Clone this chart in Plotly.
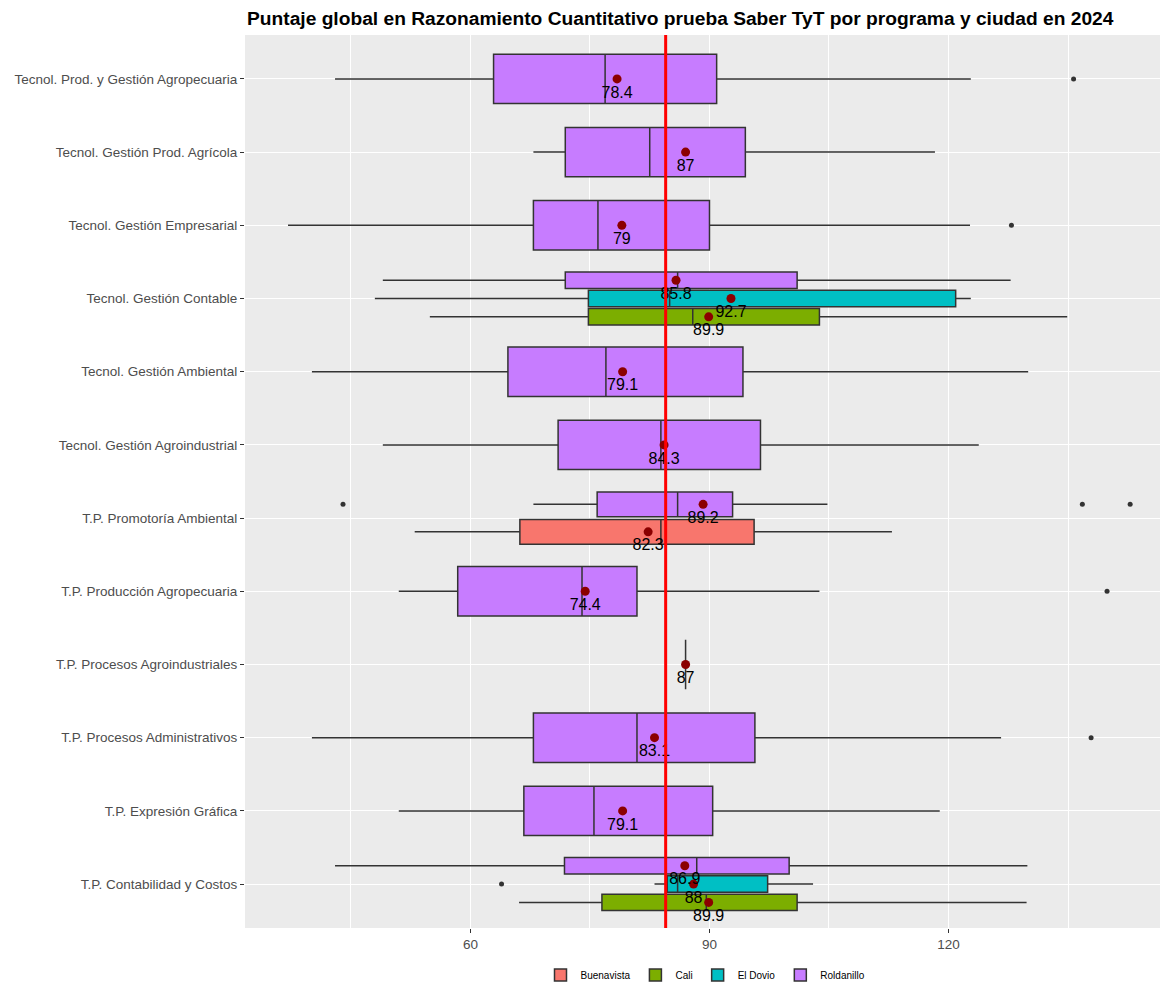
import plotly.graph_objects as go

# ---------------- data ----------------
programas = [
    "Tecnol. Prod. y Gestión Agropecuaria",
    "Tecnol. Gestión Prod. Agrícola",
    "Tecnol. Gestión Empresarial",
    "Tecnol. Gestión Contable",
    "Tecnol. Gestión Ambiental",
    "Tecnol. Gestión Agroindustrial",
    "T.P. Promotoría Ambiental",
    "T.P. Producción Agropecuaria",
    "T.P. Procesos Agroindustriales",
    "T.P. Procesos Administrativos",
    "T.P. Expresión Gráfica",
    "T.P. Contabilidad y Costos",
]
ciudades = ["Buenavista", "Cali", "El Dovio", "Roldanillo"]
colores = {"Buenavista": "#F8766D", "Cali": "#7CAE00", "El Dovio": "#00BFC4", "Roldanillo": "#C77CFF"}

fila_programa = [
    "Tecnol. Prod. y Gestión Agropecuaria",
    "Tecnol. Gestión Prod. Agrícola",
    "Tecnol. Gestión Empresarial",
    "Tecnol. Gestión Contable",
    "Tecnol. Gestión Contable",
    "Tecnol. Gestión Contable",
    "Tecnol. Gestión Ambiental",
    "Tecnol. Gestión Agroindustrial",
    "T.P. Promotoría Ambiental",
    "T.P. Promotoría Ambiental",
    "T.P. Producción Agropecuaria",
    "T.P. Procesos Agroindustriales",
    "T.P. Procesos Administrativos",
    "T.P. Expresión Gráfica",
    "T.P. Contabilidad y Costos",
    "T.P. Contabilidad y Costos",
    "T.P. Contabilidad y Costos",
]
fila_ciudad = [
    "Roldanillo", "Roldanillo", "Roldanillo",
    "Roldanillo", "El Dovio", "Cali",
    "Roldanillo", "Roldanillo",
    "Roldanillo", "Buenavista",
    "Roldanillo", "Roldanillo", "Roldanillo", "Roldanillo",
    "Roldanillo", "El Dovio", "Cali",
]
bigote_inf = [43.0, 67.9, 37.1, 49.0, 48.0, 54.9, 40.1, 49.0, 67.9, 53.0, 51.0, 87.0, 40.1, 51.0, 43.0, 83.1, 66.1]
q1 =         [62.9, 71.9, 67.9, 71.9, 74.8, 74.8, 64.7, 71.0, 75.9, 66.2, 58.4, 87.0, 67.9, 66.7, 71.8, 84.7, 76.5]
mediana =    [76.9, 82.5, 76.0, 86.0, 85.0, 87.9, 77.0, 83.9, 86.0, 83.9, 74.0, 87.0, 80.9, 75.5, 88.4, 86.0, 89.6]
q3 =         [90.9, 94.5, 90.0, 101.0, 120.9, 103.8, 94.2, 96.4, 92.9, 95.6, 80.9, 87.0, 95.7, 90.4, 100.0, 97.3, 101.0]
bigote_sup = [122.8, 118.3, 122.7, 127.8, 122.8, 134.9, 130.0, 123.8, 104.8, 112.9, 103.8, 87.0, 126.6, 118.9, 129.9, 103.0, 129.8]
media =      [78.4, 87, 79, 85.8, 92.7, 89.9, 79.1, 84.3, 89.2, 82.3, 74.4, 87, 83.1, 79.1, 86.9, 88, 89.9]

atipico_programa = [
    "Tecnol. Prod. y Gestión Agropecuaria",
    "Tecnol. Gestión Empresarial",
    "T.P. Promotoría Ambiental",
    "T.P. Promotoría Ambiental",
    "T.P. Promotoría Ambiental",
    "T.P. Producción Agropecuaria",
    "T.P. Procesos Administrativos",
    "T.P. Contabilidad y Costos",
]
atipico_ciudad = ["Roldanillo", "Roldanillo", "Roldanillo", "Roldanillo", "Roldanillo",
                  "Roldanillo", "Roldanillo", "El Dovio"]
atipico_valor = [135.7, 127.9, 44.0, 136.8, 142.8, 139.9, 137.9, 63.9]

media_global = 84.5

# ---------------- dodge positions (position_dodge2, width 0.75, padding 0.1) ----------------
DODGE = 0.75
PAD = 0.1


def posicion(prog, ciudad):
    grupo = sorted(c for p, c in zip(fila_programa, fila_ciudad) if p == prog)
    n = len(grupo)
    k = grupo.index(ciudad)
    w = DODGE / n
    centro = programas.index(prog) + 1
    return centro + DODGE / 2 - (k + 0.5) * w, w * (1 - PAD)


fig = go.Figure()

vistos = set()
for ciudad in ciudades:
    for i, (p, c) in enumerate(zip(fila_programa, fila_ciudad)):
        if c != ciudad:
            continue
        y, ancho = posicion(p, c)
        fig.add_trace(go.Box(
            y=[y], q1=[q1[i]], median=[mediana[i]], q3=[q3[i]],
            lowerfence=[bigote_inf[i]], upperfence=[bigote_sup[i]],
            orientation="h", width=ancho, boxpoints=False, whiskerwidth=0,
            fillcolor=colores[c], line=dict(color="#333333", width=1.5),
            name=c, legendgroup=c, showlegend=c not in vistos,
        ))
        vistos.add(c)

# outliers
fig.add_trace(go.Scatter(
    x=atipico_valor,
    y=[posicion(p, c)[0] for p, c in zip(atipico_programa, atipico_ciudad)],
    mode="markers", marker=dict(color="#333333", size=5),
    showlegend=False, hoverinfo="x",
))

# means with labels
fig.add_trace(go.Scatter(
    x=media,
    y=[posicion(p, c)[0] for p, c in zip(fila_programa, fila_ciudad)],
    mode="markers+text",
    marker=dict(color="#8B0000", size=9),
    text=[f"{m:g}" for m in media],
    textposition="bottom center",
    textfont=dict(family="Liberation Sans, Arial", size=16, color="black"),
    showlegend=False,
))

fig.add_shape(type="line", x0=media_global, x1=media_global, xref="x", y0=0, y1=1, yref="paper",
              line=dict(color="#FF0000", width=3), layer="above")

W, H = 1160, 982  # page body has an 8px margin
fig.update_layout(
    width=W, height=H,
    margin=dict(l=237, r=2, t=27, b=62),
    paper_bgcolor="white", plot_bgcolor="#EBEBEB",
    font=dict(family="Liberation Sans, Arial", color="#4D4D4D"),
    title=dict(
        text="<b>Puntaje global en Razonamiento Cuantitativo prueba Saber TyT por programa y ciudad en 2024</b>",
        x=239 / W, xanchor="left", y=1 - 10 / H, yanchor="middle",
        font=dict(size=19.2, color="black", family="Liberation Sans, Arial"),
    ),
    xaxis=dict(
        range=[31.7, 147.3], tickvals=[60, 90, 120], showgrid=True, gridcolor="white", gridwidth=1.3,
        zeroline=False, ticks="outside", ticklen=4, tickcolor="#333333", automargin=False,
        tickfont=dict(size=13.5, color="#4D4D4D"),
        minor=dict(tickvals=[45, 75, 105, 135], showgrid=True, gridcolor="white", gridwidth=0.6, ticks=""),
    ),
    yaxis=dict(
        range=[12.6, 0.4], tickvals=list(range(1, len(programas) + 1)), ticktext=programas,
        showgrid=True, gridcolor="white", gridwidth=1.3, zeroline=False, automargin=False,
        ticks="outside", ticklen=4, tickcolor="#333333",
        tickfont=dict(size=13.5, color="#4D4D4D"),
    ),
    legend=dict(orientation="h", x=0.5, xanchor="center", xref="paper",
                y=1 - 967 / H, yanchor="middle", yref="container",
                font=dict(size=10, color="black"), bgcolor="rgba(0,0,0,0)"),
)

fig.write_html("out.html")
